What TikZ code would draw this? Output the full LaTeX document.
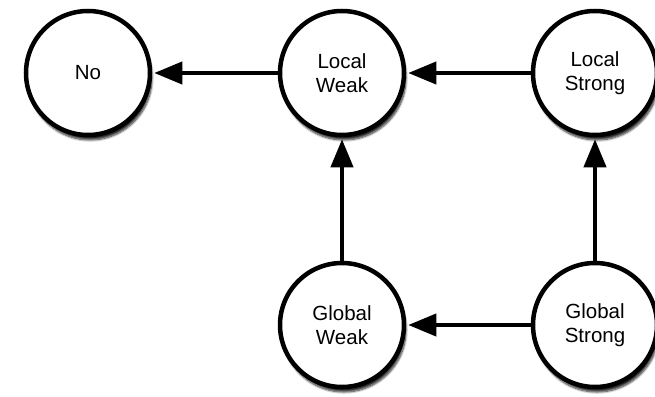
\documentclass[tikz,border=0pt]{standalone}
\usepackage{fontspec}
\setmainfont{Liberation Sans}
\usetikzlibrary{arrows.meta,shadows.blur}

\begin{document}
\begin{tikzpicture}[x=1pt,y=1pt,
    state/.style={circle, draw=black, line width=4.5pt, fill=white, minimum size=124pt,
      inner sep=0pt, align=center, font=\fontsize{20.5}{24}\selectfont,
      blur shadow={shadow xshift=2pt, shadow yshift=-5pt, shadow blur steps=8, shadow opacity=85}},
    link/.style={line width=4pt, -{Triangle[length=28pt,width=22pt]}, shorten >=2pt}]
          \useasboundingbox (0,0) rectangle (655,-396);

          \node[state] (no) at (88,-73) {No};
          \node[state] (lw) at (342,-73) {Local\\Weak};
          \node[state] (ls) at (595,-73) {Local\\Strong};
          \node[state] (gw) at (342,-325) {Global\\Weak};
          \node[state] (gs) at (595,-325) {Global\\Strong};

          \draw[link] (lw) -- (no);
          \draw[link] (ls) -- (lw);
          \draw[link] (gw) -- (lw);
          \draw[link] (gs) -- (ls);
          \draw[link] (gs) -- (gw);
        \end{tikzpicture}
\end{document}
